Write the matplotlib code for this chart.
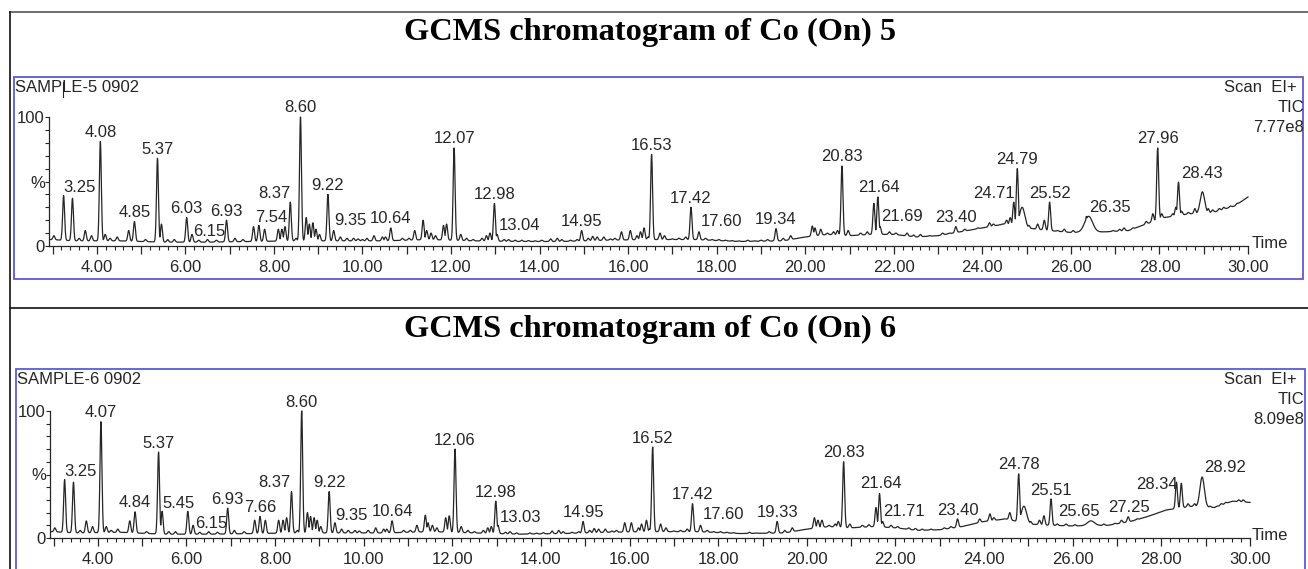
import numpy as np
import matplotlib.pyplot as plt
from matplotlib.lines import Line2D
from matplotlib.patches import Rectangle
from matplotlib.ticker import MultipleLocator

W, H = 1308, 569

# ---- SAMPLE-5 (Co (On) 5) ----
s5_base_t = [2.95, 3.5, 4.5, 5.5, 6.5, 7.5, 8.5, 9.5, 10.5, 11.5, 12.5, 13.5, 14.5, 15.5, 16.5,
             17.5, 18.5, 19.5, 20.0, 20.5, 21.0, 21.5, 22.0, 22.5, 23.0, 23.5, 24.0, 24.5, 25.0,
             25.5, 26.0, 26.8, 27.3, 27.7, 28.1, 28.7, 29.2, 29.7, 30.0]
s5_base_y = [5, 4, 4, 3, 3, 3.5, 4, 4, 4, 5, 4, 3.5, 3.5, 4.5, 5,
             5, 3.5, 4, 7, 9, 8, 9, 9, 7, 8, 11, 14, 17, 14,
             12, 10.5, 11, 12, 17, 22, 25, 26, 31, 38]
# labelled peaks (retention time labels) and their heights in %
s5_labels = ["3.25", "4.08", "4.85", "5.37", "6.03", "6.15", "6.93", "7.54", "8.37", "8.60",
             "9.22", "9.35", "10.64", "12.07", "12.98", "13.04", "14.95", "16.53", "17.42",
             "17.60", "19.34", "20.83", "21.64", "21.69", "23.40", "24.71", "24.79", "25.52",
             "26.35", "27.96", "28.43"]
s5_label_h = [39, 81, 19, 68, 22, 9, 20, 15, 34, 100,
              40, 12, 14, 76, 33, 9, 12, 71, 30,
              11, 13.5, 62, 38, 15, 15, 34, 60, 34,
              23, 76, 49.5]
# unlabelled small peaks
s5_small_t = [3.03, 3.45, 3.74, 3.88, 4.19, 4.46, 4.72, 5.46, 5.75, 6.5, 7.12, 7.66, 7.79, 8.10,
              8.18, 8.25, 8.50, 8.73, 8.80, 8.88, 8.95, 9.03, 9.5, 9.65, 9.8, 10.0, 10.26, 10.45,
              10.52, 10.9, 11.05, 11.18, 11.37, 11.45, 11.55, 11.65, 11.83, 11.9, 12.22, 12.35,
              12.5, 12.7, 12.8, 12.88, 13.3, 13.6, 14.25, 14.4, 14.5, 15.2, 15.3, 15.45, 15.7,
              15.85, 16.05, 16.2, 16.28, 16.36, 16.72, 16.82, 17.0, 17.3, 17.9, 18.5, 19.0, 19.67,
              20.16, 20.22, 20.35, 20.5, 20.64, 20.73, 20.97, 21.1, 21.55, 22.3, 22.6, 23.1,
              23.6, 23.75, 24.16, 24.25, 24.35, 24.45, 24.55, 24.63, 25.25, 25.40, 25.7, 27.2,
              27.4, 27.85, 28.05, 28.15, 28.3, 28.37, 29.1, 29.35, 29.6, 29.9]
s5_small_h = [8, 37, 12, 8, 9, 7, 12, 17, 5, 5, 6, 16, 13, 13,
              13, 15, 6, 22, 17, 18, 13, 9, 7, 6, 6, 5, 8, 7,
              7, 6, 6, 12, 20, 12, 10, 8, 16, 17, 9, 6,
              5, 6, 8, 10, 5, 4.5, 5.5, 6, 5, 7.5, 7, 7, 6,
              11, 12, 8, 11, 14, 10, 8, 5.5, 7, 5, 4, 4.5, 8,
              15.5, 14, 13, 10, 11, 12, 12, 8, 33, 10, 9, 10,
              13, 12, 18, 17, 16, 17, 20, 22, 17, 20, 12, 14,
              14, 25, 25, 22, 25, 30, 29, 29, 31, 34]
# baseline ripple
s5_noise_t = [3.6, 4.3, 5.1, 5.6, 6.3, 6.7, 7.3, 9.9, 10.1, 13.2, 13.45, 13.75, 13.9, 14.05,
              14.7, 14.85, 15.1, 15.6, 16.45, 17.15, 17.75, 18.05, 18.2, 18.35, 18.7, 18.85,
              19.15, 19.5, 19.85, 21.25, 21.4, 21.9, 22.05, 22.45, 22.8, 23.25, 23.9, 25.05,
              25.85, 26.05, 26.95, 27.1, 27.55, 27.7, 28.5, 28.65, 28.8, 29.2, 29.45, 29.75]
s5_noise_h = [6, 6, 5, 5, 4.5, 4.5, 5, 5.5, 6, 5, 4.5, 4.2, 4, 4.5,
              4.5, 5, 6, 5.5, 7, 6, 6, 5, 4.5, 4.2, 4.5, 4,
              5, 6, 6, 10, 11, 11, 10, 8.5, 8, 10, 14, 16,
              13, 12, 12, 13, 15, 19, 27, 26, 29, 28, 30, 33]
# broad features: time, height %, width (min)
s5_broad_t = [24.9, 26.4, 28.97]
s5_broad_h = [30, 23, 42]
s5_broad_w = [0.06, 0.09, 0.05]
s5_scale = "7.77e8"

# ---- SAMPLE-6 (Co (On) 6) ----
s6_base_t = [2.95, 3.5, 4.5, 5.5, 6.5, 7.5, 8.5, 9.5, 10.5, 11.5, 12.5, 13.5, 14.5, 15.5, 16.5,
             17.5, 18.5, 19.5, 20.0, 20.5, 21.0, 21.5, 22.0, 22.5, 23.0, 23.5, 24.0, 24.5, 25.0,
             25.5, 26.0, 26.8, 27.3, 27.7, 28.1, 28.7, 29.2, 29.6, 30.0]
s6_base_y = [5, 4, 4.5, 3, 3, 3.5, 4, 4, 4, 5, 4, 3, 3.5, 4.5, 5,
             5, 3.5, 4, 7, 9, 8, 9, 8, 6, 6.5, 9, 13, 15, 11,
             10, 9.5, 10, 13, 17, 22, 25, 24, 29, 28]
s6_labels = ["3.25", "4.07", "4.84", "5.37", "5.45", "6.15", "6.93", "7.66", "8.37", "8.60",
             "9.22", "9.35", "10.64", "12.06", "12.98", "13.03", "14.95", "16.52", "17.42",
             "17.60", "19.33", "20.83", "21.64", "21.71", "23.40", "24.78", "25.51", "25.65",
             "27.25", "28.34", "28.92"]
s6_label_h = [46, 91.5, 20.6, 67.7, 21, 10, 23.5, 17, 36.5, 100,
              36.5, 12, 13.5, 70, 29, 10, 13, 71.6, 27,
              10, 13, 60, 35, 13, 15, 50.5, 30.7, 11,
              16.7, 44, 48]
s6_small_t = [3.03, 3.45, 3.74, 3.88, 4.19, 4.45, 4.72, 5.75, 6.03, 6.5, 7.08, 7.54, 7.78, 8.08,
              8.18, 8.26, 8.5, 8.73, 8.80, 8.88, 8.95, 9.03, 9.5, 9.65, 9.8, 10.27, 10.45, 10.52,
              10.9, 11.05, 11.2, 11.39, 11.45, 11.55, 11.65, 11.85, 11.93, 12.2, 12.35, 12.5,
              12.7, 12.8, 12.88, 13.3, 14.25, 14.4, 14.5, 15.2, 15.3, 15.45, 15.7, 15.89, 16.04,
              16.2, 16.27, 16.38, 16.7, 16.82, 17.0, 17.3, 17.9, 19.67, 20.17, 20.25, 20.34,
              20.5, 20.64, 20.71, 20.97, 21.1, 21.56, 22.3, 22.6, 23.1, 23.7, 24.13, 24.22,
              24.35, 24.45, 24.58, 25.25, 25.35, 27.6, 27.9, 28.2, 28.45, 29.1, 29.35, 29.6, 29.95]
s6_small_h = [8, 44, 13.5, 9, 9, 7, 13.5, 5, 21, 5, 6, 14, 14, 14,
              14, 16, 6, 20, 17, 16, 14, 9, 7, 6, 6, 8, 7, 7,
              6, 6, 10, 18, 12, 10, 8, 16, 17.5, 9, 6, 5,
              6, 8, 9, 5, 5.5, 6, 5, 7.5, 7, 7, 6, 12, 12,
              8, 11, 14, 11, 8, 5.5, 7, 5, 8, 16, 14, 14,
              10, 11, 13, 11, 8, 24, 8, 7, 8, 8, 19, 16,
              14, 15, 20, 14, 17.5, 16, 19, 20, 43, 25, 27, 29, 28]
s6_noise_t = [3.6, 4.3, 5.1, 5.6, 6.3, 6.7, 7.3, 9.9, 10.1, 13.2, 13.45, 13.75, 13.9, 14.05,
              14.7, 14.85, 15.1, 15.6, 16.45, 17.15, 17.75, 18.05, 18.2, 18.35, 18.7, 18.85,
              19.15, 19.5, 19.85, 21.25, 21.4, 21.9, 22.05, 22.45, 22.8, 23.25, 23.9, 25.05,
              25.85, 26.05, 26.7, 26.95, 27.1, 27.45, 28.6, 28.75, 29.25, 29.45, 29.75, 29.85]
s6_noise_h = [6, 6, 5, 5, 4.5, 4.5, 5, 5.5, 6, 4.5, 4, 4, 3.8, 4.2,
              4.5, 5, 6, 5.5, 7, 6, 6, 5, 4.5, 4.2, 4.5, 4,
              5, 6, 6, 10, 10.5, 10, 9, 7.5, 7, 9, 15, 13,
              11, 10.5, 11, 11.5, 14, 15, 27, 27, 25, 28, 30, 30]
s6_broad_t = [24.9, 26.41, 28.92]
s6_broad_h = [25, 13.5, 48]
s6_broad_w = [0.06, 0.08, 0.05]
s6_scale = "8.09e8"

# label placement where the instrument moved a label off its peak: text -> (time, %)
s5_label_pos = {"3.25": (3.62, 45.6), "6.15": (6.53, 11.2), "7.54": (7.93, 22), "8.37": (8.0, 40.9),
                "9.35": (9.73, 19.5), "13.04": (13.55, 16.2), "17.60": (18.11, 18.8),
                "21.64": (21.66, 45.5), "21.69": (22.19, 23), "24.71": (24.27, 40.4),
                "26.35": (26.88, 30), "28.43": (28.95, 56)}
s6_label_pos = {"3.25": (3.61, 52.6), "5.45": (5.83, 27.5), "6.15": (6.55, 11.4), "8.37": (7.99, 43.4),
                "9.35": (9.73, 18), "13.03": (13.54, 16.1), "17.60": (18.11, 18.8),
                "21.64": (21.68, 42.6), "21.71": (22.2, 20.9), "25.65": (26.15, 20.9),
                "27.25": (27.27, 24), "28.34": (27.89, 42), "28.92": (29.44, 55.3)}

SANS = "Liberation Sans"
BLUE = "#5a5ad6"
INK = "#262626"


def fx(x):
    return x / W


def fy(y):
    return 1 - y / H


def build_trace(base_t, base_y, pk_t, pk_h, br_t, br_h, br_w):
    t = np.arange(2.95, 30.0001, 0.005)
    base = np.interp(t, base_t, base_y)
    y = base.copy()
    widths = [0.022] * len(pk_t) + list(br_w)
    for p, h, w in zip(list(pk_t) + list(br_t), list(pk_h) + list(br_h), widths):
        amp = h - np.interp(p, base_t, base_y)
        y = np.maximum(y, base + amp * np.exp(-0.5 * ((t - p) / w) ** 2))
    return t, y


def draw_panel(ax_rect, box, sample, scale, base_t, base_y, labels, label_h,
               small_t, small_h, br_t, br_h, br_w, label_pos, txt_y):
    fig.add_artist(Rectangle((fx(box[0]), fy(box[3])), fx(box[2] - box[0]), (box[3] - box[1]) / H,
                             transform=fig.transFigure, fill=False, ec=BLUE, lw=1.3))
    ax = fig.add_axes([fx(ax_rect[0]), fy(ax_rect[3]), fx(ax_rect[2] - ax_rect[0]),
                       (ax_rect[3] - ax_rect[1]) / H])
    pk_t = [float(s) for s in labels] + list(small_t)
    pk_h = list(label_h) + list(small_h)
    t, y = build_trace(base_t, base_y, pk_t, pk_h, br_t, br_h, br_w)
    ax.plot(t, y, color=INK, lw=0.9, clip_on=False)
    ax.set_xlim(2.92, 30.0)
    ax.set_ylim(0, 100)
    for s in ["top", "right"]:
        ax.spines[s].set_visible(False)
    for s in ["left", "bottom"]:
        ax.spines[s].set_linewidth(0.9)
        ax.spines[s].set_color(INK)
    ax.set_xticks(np.arange(3, 31, 1))
    ax.set_xticklabels(["%.2f" % v if v % 2 == 0 else "" for v in range(3, 31)])
    ax.xaxis.set_minor_locator(MultipleLocator(0.2))
    ax.tick_params(axis="x", which="major", length=5.5, width=0.9, pad=4.5, labelsize=12,
                   colors=INK)
    ax.tick_params(axis="x", which="minor", length=3, width=0.8, colors=INK)
    ax.set_yticks(np.arange(0, 101, 10))
    ax.set_yticklabels(["0", "", "", "", "", "%", "", "", "", "", "100"])
    ax.tick_params(axis="y", length=3, width=0.8, pad=0, labelsize=12, colors=INK)
    for tl in ax.get_xticklabels() + ax.get_yticklabels():
        tl.set_fontfamily(SANS)
    for lab, h in zip(labels, label_h):
        px, py = label_pos.get(lab, (float(lab), h + 7))
        ax.text(px, py, lab, ha="center", va="center", fontsize=12, family=SANS, color=INK,
                clip_on=False)
    fig.text(fx(1252), fy(ax_rect[3] - 2), "Time", ha="left", va="center", fontsize=12,
             family=SANS, color=INK)
    fig.text(fx(box[0] + 1), fy(txt_y), sample, ha="left", va="center", fontsize=12,
             family=SANS, color=INK)
    fig.text(fx(1297), fy(txt_y), "Scan  EI+", ha="right", va="center", fontsize=12,
             family=SANS, color=INK)
    fig.text(fx(1304), fy(txt_y + 20), "TIC", ha="right", va="center", fontsize=12,
             family=SANS, color=INK)
    fig.text(fx(1304), fy(txt_y + 40), scale, ha="right", va="center", fontsize=12,
             family=SANS, color=INK)
    return ax


fig = plt.figure(figsize=(W / 100, H / 100), dpi=100)

# outer frame lines
fig.add_artist(Line2D([fx(10), 1], [fy(12), fy(12)], transform=fig.transFigure, color="#555555", lw=1.2))
fig.add_artist(Line2D([fx(10), fx(10)], [fy(12), 0], transform=fig.transFigure, color="#111111", lw=1.2))
fig.add_artist(Line2D([fx(10), 1], [fy(308), fy(308)], transform=fig.transFigure, color="#111111", lw=1.2))

fig.text(0.497, fy(40), "GCMS chromatogram of Co (On) 5", ha="center", va="baseline",
         fontsize=23.3, fontweight="bold", family="Liberation Serif", color="black")
fig.text(0.497, fy(337), "GCMS chromatogram of Co (On) 6", ha="center", va="baseline",
         fontsize=23.3, fontweight="bold", family="Liberation Serif", color="black")

draw_panel((49, 117, 1248, 246), (14, 77, 1303, 279), "SAMPLE-5 0902", s5_scale,
           s5_base_t, s5_base_y, s5_labels, s5_label_h,
           s5_small_t + s5_noise_t, s5_small_h + s5_noise_h,
           s5_broad_t, s5_broad_h, s5_broad_w, s5_label_pos, 88)
draw_panel((50, 411, 1250, 538), (16, 369, 1305, 600), "SAMPLE-6 0902", s6_scale,
           s6_base_t, s6_base_y, s6_labels, s6_label_h,
           s6_small_t + s6_noise_t, s6_small_h + s6_noise_h,
           s6_broad_t, s6_broad_h, s6_broad_w, s6_label_pos, 380)

# stray cursor mark in the first sample name
fig.add_artist(Line2D([fx(63), fx(63)], [fy(82), fy(97)], transform=fig.transFigure, color=INK, lw=0.8))

fig.savefig("out.png", dpi=100)
